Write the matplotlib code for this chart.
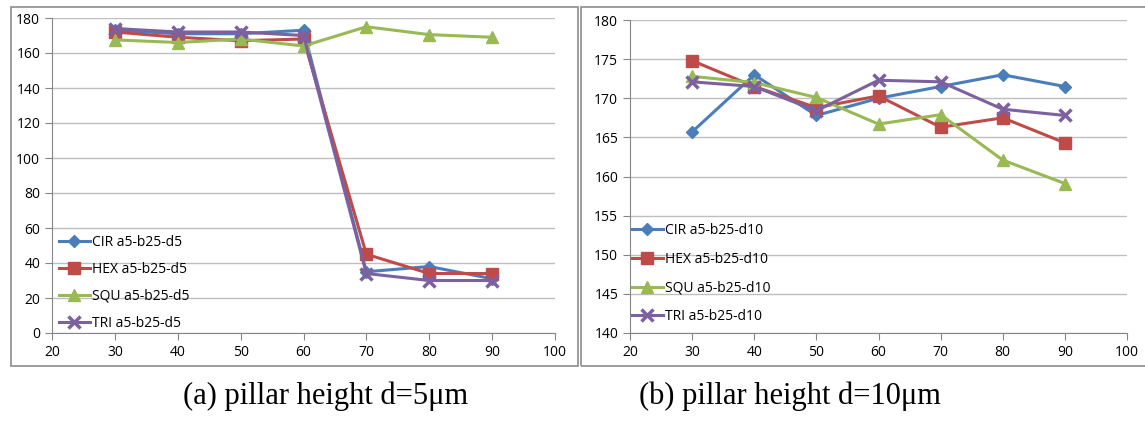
import matplotlib
matplotlib.use("Agg")
from matplotlib import pyplot as plt
from matplotlib.patches import Rectangle

# pillar width (x) values
x = [30, 40, 50, 60, 70, 80, 90]

# d = 5 um
cir_d5 = [173, 171, 171, 173, 35, 38, 31]
hex_d5 = [172, 169, 167, 168, 45, 34, 34]
squ_d5 = [167.5, 166, 168, 164, 175, 170.5, 169]
tri_d5 = [174, 172, 172, 170, 34, 30, 30]

# d = 10 um
cir_d10 = [165.7, 173, 167.8, 170, 171.5, 173, 171.5]
hex_d10 = [174.8, 171.5, 168.8, 170.3, 166.3, 167.5, 164.3]
squ_d10 = [172.8, 172, 170.1, 166.7, 167.9, 162.1, 159.1]
tri_d10 = [172.1, 171.5, 168.4, 172.3, 172.1, 168.6, 167.8]

names = ["CIR", "HEX", "SQU", "TRI"]
colors = ["#4A7EBB", "#BE4B48", "#98B954", "#7D60A0"]
markers = ["D", "s", "^", "x"]
msizes = [6, 8, 8, 8]

plt.rcParams["font.family"] = ["Open Sans", "DejaVu Sans"]

fig = plt.figure(figsize=(11.45, 4.25), dpi=100)

# panel frames
fig.patches.append(Rectangle((11 / 1145, 1 - 366 / 425), 567 / 1145, 359 / 425,
                             transform=fig.transFigure, fill=False,
                             edgecolor="#8c8c8c", linewidth=1.2))
fig.patches.append(Rectangle((581 / 1145, 1 - 366 / 425), 570 / 1145, 359 / 425,
                             transform=fig.transFigure, fill=False,
                             edgecolor="#8c8c8c", linewidth=1.2))

ax1 = fig.add_axes([52 / 1145, 1 - 333 / 425, 503 / 1145, 315 / 425])
ax2 = fig.add_axes([630 / 1145, 1 - 333 / 425, 497 / 1145, 313 / 425])


def draw(ax, series, suffix, ylim, ystep, anchor, spacing):
    for vals, name, c, m, ms in zip(series, names, colors, markers, msizes):
        mew = 2.5 if m == "x" else 1
        ax.plot(x, vals, color=c, marker=m, markersize=ms, linewidth=2.2,
                markeredgewidth=mew, label=f"{name} {suffix}")
    ax.set_xlim(20, 100)
    ax.set_ylim(*ylim)
    ax.set_xticks(range(20, 101, 10))
    ax.set_yticks(range(ylim[0], ylim[1] + 1, ystep))
    ax.grid(axis="y", color="#bfbfbf", linewidth=1)
    ax.set_axisbelow(True)
    for s in ["top", "right"]:
        ax.spines[s].set_visible(False)
    for s in ["left", "bottom"]:
        ax.spines[s].set_color("#868686")
    ax.tick_params(colors="#868686", labelcolor="black", labelsize=10,
                   direction="out", length=5)
    ax.legend(loc="center left", bbox_to_anchor=anchor, frameon=False,
              fontsize=10, handlelength=2.2, handletextpad=0.2,
              labelspacing=spacing, borderpad=0, borderaxespad=0)


draw(ax1, [cir_d5, hex_d5, squ_d5, tri_d5], "a5-b25-d5", (0, 180), 20,
     (0.014, 0.160), 0.86)
draw(ax2, [cir_d10, hex_d10, squ_d10, tri_d10], "a5-b25-d10", (140, 180), 5,
     (0.004, 0.1895), 0.99)

fig.text(326 / 1145, 1 - 404 / 425, "(a) pillar height d=5μm", ha="center",
         va="baseline", fontsize=22, family="Liberation Serif")
fig.text(790 / 1145, 1 - 404 / 425, "(b) pillar height d=10μm", ha="center",
         va="baseline", fontsize=22, family="Liberation Serif")

fig.savefig("out.png", dpi=100)
